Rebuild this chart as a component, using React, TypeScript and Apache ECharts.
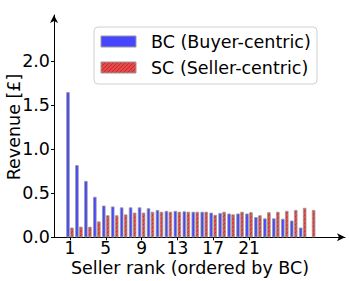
import React, { useEffect, useRef } from "react";
import * as echarts from "echarts";

const ranks: string[] = Array.from({ length: 28 }, (_, i) => String(i + 1));
const bcValues: (number | null)[] = [
  1.65, 0.82, 0.64, 0.46, 0.36, 0.35, 0.34, 0.34, 0.34, 0.33, 0.31, 0.3, 0.3, 0.295,
  0.29, 0.29, 0.28, 0.276, 0.27, 0.27, 0.27, 0.23, 0.215, 0.215, 0.21, 0.19, 0.11, null,
];
const scValues: number[] = [
  0.11, 0.12, 0.12, 0.18, 0.25, 0.25, 0.26, 0.28, 0.28, 0.29, 0.29, 0.29, 0.29, 0.29,
  0.29, 0.29, 0.255, 0.29, 0.26, 0.29, 0.285, 0.25, 0.285, 0.29, 0.3, 0.31, 0.335, 0.31,
];
const yTicks: number[] = [0, 0.5, 1, 1.5, 2];
const xTickRanks: number[] = [1, 5, 9, 13, 17, 21];
const bcName = "BC (Buyer-centric)";
const scName = "SC (Seller-centric)";
const yTitle = "Revenue [£]";
const xTitle = "Seller rank (ordered by BC)";

const FONT = "DejaVu Sans";
const FS = 17.5;
const BLUE = "#4646ff";
const EDGE = "#9a9a9a";

function makeHatch(): string {
  const c = document.createElement("canvas");
  c.width = 4;
  c.height = 4;
  const ctx = c.getContext("2d")!;
  ctx.fillStyle = "#e84848";
  ctx.fillRect(0, 0, 4, 4);
  ctx.strokeStyle = "#b83030";
  ctx.lineWidth = 1;
  ctx.beginPath();
  ctx.moveTo(0, 4);
  ctx.lineTo(4, 0);
  ctx.moveTo(-1, 1);
  ctx.lineTo(1, -1);
  ctx.moveTo(3, 5);
  ctx.lineTo(5, 3);
  ctx.stroke();
  return c.toDataURL();
}

export default function App() {
  const ref = useRef<HTMLDivElement>(null);
  useEffect(() => {
    if (!ref.current) return;
    const chart = echarts.init(ref.current, undefined, { renderer: "svg" });
    const hatch = { image: makeHatch(), repeat: "repeat" } as any;
    const yMax = 2.526;
    const top = 15;
    const bottom = 43.7;
    const tickIdx = xTickRanks.map((r) => r - 1);
    chart.setOption({
      animation: false,
      grid: [
        { left: 65.5, right: 32.9, top, bottom },
        { left: 54, right: 4, top, bottom },
      ],
      xAxis: [
        {
          type: "category",
          gridIndex: 0,
          data: ranks,
          axisLine: { show: false },
          axisTick: {
            show: true,
            alignWithLabel: true,
            length: 3,
            interval: (i: number) => tickIdx.includes(i),
            lineStyle: { color: "#000", width: 1 },
          },
          axisLabel: {
            interval: (i: number) => tickIdx.includes(i),
            fontFamily: FONT,
            fontSize: 17,
            lineHeight: 14,
            color: "#000",
            margin: 4,
          },
          splitLine: { show: false },
        },
        {
          type: "value",
          gridIndex: 1,
          min: 0,
          max: 1,
          axisLine: {
            show: true,
            onZero: false,
            lineStyle: { color: "#000", width: 1 },
            symbol: ["none", "arrow"],
            symbolSize: [6, 8],
          },
          axisTick: { show: false },
          axisLabel: { show: false },
          splitLine: { show: false },
        },
      ],
      yAxis: [
        {
          type: "value",
          gridIndex: 0,
          min: 0,
          max: yMax,
          show: false,
          splitLine: { show: false },
        },
        {
          type: "value",
          gridIndex: 1,
          min: 0,
          max: yMax,
          axisLine: {
            show: true,
            lineStyle: { color: "#000", width: 1 },
            symbol: ["none", "arrow"],
            symbolSize: [6, 8],
          },
          axisTick: {
            show: true,
            length: 3,
            customValues: yTicks,
            lineStyle: { color: "#000" },
          },
          axisLabel: {
            customValues: yTicks,
            formatter: (v: number) => v.toFixed(1),
            fontFamily: FONT,
            fontSize: FS,
            color: "#000",
            margin: 4,
          },
          splitLine: { show: false },
        },
      ],
      series: [
        {
          type: "bar",
          name: bcName,
          xAxisIndex: 0,
          yAxisIndex: 0,
          data: bcValues,
          barWidth: 3.5,
          barGap: "14%",
          itemStyle: { color: BLUE, borderColor: EDGE, borderWidth: 0.8 },
        },
        {
          type: "bar",
          name: scName,
          xAxisIndex: 0,
          yAxisIndex: 0,
          data: scValues,
          barWidth: 3.5,
          barGap: "14%",
          itemStyle: { color: hatch, borderColor: EDGE, borderWidth: 0.8 },
        },
      ],
      graphic: [
        {
          type: "rect",
          shape: { x: 94, y: 27, width: 223, height: 57, r: 4 },
          style: { fill: "rgba(255,255,255,0.8)", stroke: "#d0d0d0", lineWidth: 1 },
          z: 10,
        },
        {
          type: "rect",
          shape: { x: 101, y: 36, width: 35, height: 11 },
          style: { fill: BLUE, stroke: EDGE, lineWidth: 1 },
          z: 11,
        },
        {
          type: "rect",
          shape: { x: 101, y: 62, width: 35, height: 11 },
          style: { fill: hatch, stroke: EDGE, lineWidth: 1 },
          z: 11,
        },
        {
          type: "text",
          x: 151,
          y: 41.5,
          style: { text: bcName, font: `${FS}px '${FONT}'`, fill: "#000", verticalAlign: "middle", align: "left" },
          z: 11,
        },
        {
          type: "text",
          x: 151,
          y: 67.5,
          style: { text: scName, font: `${FS}px '${FONT}'`, fill: "#000", verticalAlign: "middle", align: "left" },
          z: 11,
        },
        {
          type: "text",
          x: 13.5,
          y: 127,
          rotation: Math.PI / 2,
          style: { text: yTitle, font: `${FS}px '${FONT}'`, fill: "#000", verticalAlign: "middle", align: "center" },
        },
        {
          type: "text",
          x: 190,
          y: 268,
          style: {
            text: xTitle,
            font: `${FS}px '${FONT}'`,
            lineHeight: 15,
            fill: "#000",
            verticalAlign: "middle",
            align: "center",
          },
        },
      ],
    });
    return () => chart.dispose();
  }, []);
  return <div ref={ref} style={{ width: 349, height: 281, position: "absolute", left: 0, top: 0 }} />;
}
